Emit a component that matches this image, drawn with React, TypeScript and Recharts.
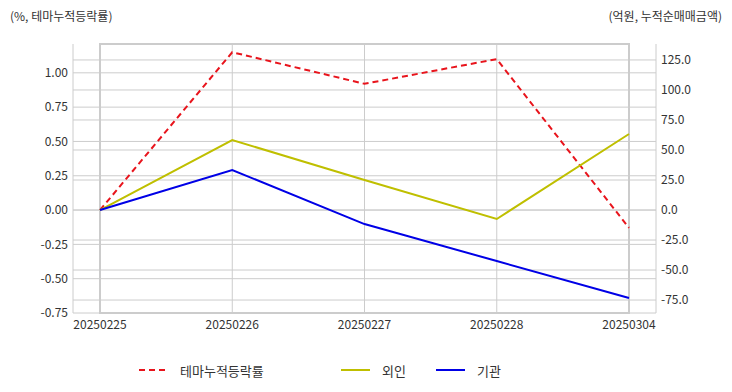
import React from "react";
import {
  LineChart,
  Line,
  XAxis,
  YAxis,
  CartesianGrid,
  ReferenceArea,
  ReferenceLine,
} from "recharts";

const dates = ["20250225", "20250226", "20250227", "20250228", "20250304"];
const themeRate = [0.0, 1.15, 0.92, 1.1, -0.13];
const foreign = [0.0, 58.3, 25.0, -7.5, 63.3];
const institution = [0.0, 33.3, -11.7, -42.5, -73.3];

const leftTicks = [-0.75, -0.5, -0.25, 0, 0.25, 0.5, 0.75, 1.0];
const rightTicks = [-75, -50, -25, 0, 25, 50, 75, 100, 125];

const FONT = "'Noto Sans CJK KR', 'Noto Sans', sans-serif";
const GRID = "#cccccc";
const TEXT = "#333";

const RED = "#e8141c";
const YELLOW = "#bfbf00";
const BLUE = "#0000e6";

const data = dates.map((d, i) => ({
  date: d,
  theme: themeRate[i],
  foreign: foreign[i],
  inst: institution[i],
}));

const tickStyle = { fontSize: 12, fill: TEXT, fontFamily: FONT };

function LegendItem({ color, label, dashed, left }: { color: string; label: string; dashed?: boolean; left: number }) {
  return (
    <div style={{ position: "absolute", left, top: 360, display: "flex", alignItems: "center" }}>
      <svg width={30} height={20}>
        <line
          x1={0}
          y1={10}
          x2={29}
          y2={10}
          stroke={color}
          strokeWidth={2}
          strokeDasharray={dashed ? "6 4" : undefined}
        />
      </svg>
      <span style={{ marginLeft: 11, fontSize: 13, color: TEXT, fontFamily: FONT }}>{label}</span>
    </div>
  );
}

export default function App() {
  return (
    <div style={{ position: "absolute", left: 0, top: 0, width: 732, height: 392, background: "#fff" }}>
      <div style={{ position: "absolute", left: 10, top: 7, fontSize: 12, color: TEXT, fontFamily: FONT }}>
        (%, 테마누적등락률)
      </div>
      <div style={{ position: "absolute", right: 10, top: 7, fontSize: 12, color: TEXT, fontFamily: FONT }}>
        (억원, 누적순매매금액)
      </div>
      <LineChart
        width={732}
        height={392}
        data={data}
        margin={{ top: 44, right: 0, left: 0, bottom: 49 }}
      >
        <CartesianGrid yAxisId="left" stroke={GRID} horizontal={false} vertical={true} />
        {leftTicks.map((t) => (
          <ReferenceLine key={`l${t}`} yAxisId="left" y={t} stroke={GRID} strokeWidth={1} />
        ))}
        {rightTicks.map((t) => (
          <ReferenceLine key={`r${t}`} yAxisId="right" y={t} stroke={GRID} strokeWidth={1} />
        ))}
        <ReferenceArea
          yAxisId="left"
          y1={-0.75}
          y2={1.21}
          fill="none"
          stroke={GRID}
          strokeWidth={2}
        />
        <XAxis
          dataKey="date"
          padding={{ left: 27, right: 27 }}
          axisLine={false}
          tickLine={false}
          tickSize={5}
          tickMargin={2}
          height={30}
          tick={tickStyle}
          interval={0}
        />
        <YAxis
          yAxisId="left"
          orientation="left"
          width={73}
          domain={[-0.75, 1.21]}
          ticks={leftTicks}
          tickFormatter={(v: number) => v.toFixed(2)}
          axisLine={false}
          tickLine={false}
          tickSize={3}
          tickMargin={2}
          tick={tickStyle}
          allowDataOverflow
        />
        <YAxis
          yAxisId="right"
          orientation="right"
          width={76}
          domain={[-85.8, 138.3]}
          ticks={rightTicks}
          tickFormatter={(v: number) => v.toFixed(1)}
          axisLine={false}
          tickLine={false}
          tickSize={3}
          tickMargin={2}
          tick={{ ...tickStyle, textAnchor: "start" }}
          allowDataOverflow
        />
        <Line
          yAxisId="left"
          dataKey="theme"
          stroke={RED}
          strokeWidth={2}
          strokeDasharray="6 4"
          dot={false}
          isAnimationActive={false}
        />
        <Line
          yAxisId="right"
          dataKey="foreign"
          stroke={YELLOW}
          strokeWidth={2}
          dot={false}
          isAnimationActive={false}
        />
        <Line
          yAxisId="right"
          dataKey="inst"
          stroke={BLUE}
          strokeWidth={2}
          dot={false}
          isAnimationActive={false}
        />
      </LineChart>
      <LegendItem color={RED} label="테마누적등락률" dashed left={139} />
      <LegendItem color={YELLOW} label="외인" left={341} />
      <LegendItem color={BLUE} label="기관" left={436} />
    </div>
  );
}
